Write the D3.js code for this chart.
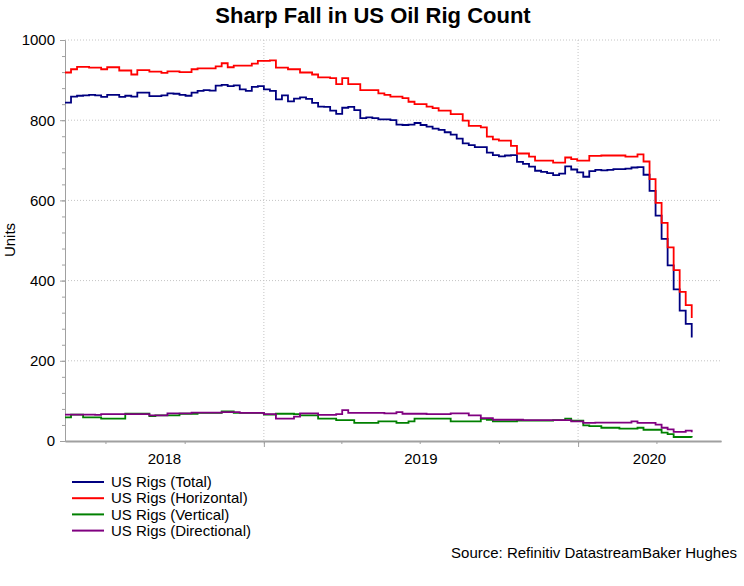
<!DOCTYPE html>
<html>
<head>
<meta charset="utf-8">
<script src="https://cdn.jsdelivr.net/npm/d3@7"></script>
<style>
  body { margin: 0; background: #fff; }
  text { font-family: "Liberation Sans", Arial, sans-serif; }
</style>
</head>
<body>
<div id="rigChart"></div>
<script>
// weekly rig counts, first reading dated firstWeek
const firstWeek = '2018-05-15';
const seriesNames = ['US Rigs (Total)', 'US Rigs (Horizontal)', 'US Rigs (Vertical)', 'US Rigs (Directional)'];

const totalRigs = [
  844, 859, 861, 862, 863, 862, 858, 863, 863, 858,
  861, 859, 869, 869, 860, 860, 862, 867, 866, 863,
  861, 869, 873, 875, 874, 886, 888, 885, 887, 877,
  873, 883, 885, 877, 873, 852, 862, 847, 854, 857,
  853, 843, 834, 833, 824, 816, 831, 833, 825, 805,
  807, 805, 802, 802, 800, 789, 788, 789, 793, 788,
  784, 779, 776, 770, 764, 754, 742, 738, 733, 733,
  719, 713, 710, 712, 713, 696, 691, 684, 674, 671,
  668, 663, 667, 685, 677, 670, 659, 673, 676, 675,
  676, 678, 678, 679, 682, 683, 664, 624, 562, 504,
  438, 378, 325, 292, 258
];
const horizontalRigs = [
  919, 927, 933, 933, 931, 931, 927, 932, 932, 924,
  924, 914, 925, 925, 921, 921, 918, 922, 922, 920,
  920, 927, 929, 929, 929, 934, 942, 932, 936, 936,
  936, 941, 948, 948, 949, 931, 931, 927, 927, 919,
  919, 914, 907, 907, 905, 890, 905, 890, 890, 875,
  875, 875, 867, 863, 859, 859, 855, 846, 840, 840,
  834, 830, 824, 824, 815, 815, 799, 786, 786, 782,
  759, 752, 749, 749, 736, 717, 717, 709, 699, 699,
  699, 694, 694, 707, 703, 699, 699, 711, 711, 712,
  712, 712, 712, 709, 709, 715, 697, 653, 594, 544,
  483, 426, 372, 339, 307
];
const verticalRigs = [
  59, 66, 66, 59, 59, 59, 56, 56, 56, 56,
  68, 68, 68, 68, 62, 64, 64, 64, 64, 68,
  68, 68, 70, 70, 70, 70, 74, 74, 70, 70,
  70, 70, 70, 66, 66, 68, 68, 68, 67, 64,
  64, 64, 56, 56, 56, 52, 52, 52, 45, 45,
  45, 45, 49, 49, 49, 45, 45, 49, 56, 56,
  56, 56, 56, 56, 49, 49, 49, 49, 49, 55,
  53, 49, 49, 49, 49, 51, 51, 51, 51, 51,
  51, 52, 52, 56, 51, 51, 39, 37, 37, 33,
  33, 33, 31, 31, 31, 33, 28, 28, 28, 21,
  17, 10, 10, 10, 9
];
const directionalRigs = [
  66, 66, 66, 66, 66, 65, 67, 67, 67, 67,
  67, 67, 67, 67, 64, 64, 64, 69, 69, 69,
  69, 71, 71, 71, 71, 71, 72, 72, 72, 70,
  70, 70, 70, 67, 67, 56, 56, 56, 61, 69,
  69, 69, 65, 65, 65, 67, 77, 70, 70, 70,
  70, 70, 70, 69, 69, 72, 68, 68, 68, 68,
  67, 67, 67, 67, 69, 69, 69, 64, 64, 57,
  57, 53, 53, 53, 53, 53, 52, 52, 52, 52,
  52, 52, 52, 52, 49, 49, 45, 45, 46, 46,
  46, 46, 46, 46, 49, 45, 45, 45, 41, 33,
  29, 23, 23, 26, 22
];

const yTicks = [0, 200, 400, 600, 800, 1000];
const years = [2018, 2019, 2020];
const xStart = '2018-05-15';
const xEnd = '2020-06-15';

const outerWidth = 744;
const outerHeight = 586;
const margin = { left: 65, top: 40, right: 23, bottom: 145 };
const innerWidth = outerWidth - (margin.left + margin.right);
const innerHeight = outerHeight - (margin.top + margin.bottom);

const parseDate = d3.timeParse('%Y-%m-%d');
const start = parseDate(firstWeek);
const weeks = totalRigs.map((d, i) => d3.timeDay.offset(start, 7 * i));
const allSeries = [totalRigs, horizontalRigs, verticalRigs, directionalRigs];

const color = d3.scaleOrdinal()
  .domain(seriesNames)
  .range(['#000080', '#ff0000', '#008000', '#800080']);

const svg = d3.select('#rigChart')
  .append('svg')
  .attr('width', outerWidth)
  .attr('height', outerHeight);

svg.append('rect')
  .attr('width', outerWidth)
  .attr('height', outerHeight)
  .attr('fill', '#fff');

svg.append('text')
  .attr('x', 373)
  .attr('y', 23)
  .attr('text-anchor', 'middle')
  .attr('font-size', 22)
  .attr('font-weight', 'bold')
  .text('Sharp Fall in US Oil Rig Count');

const xScale = d3.scaleTime()
  .domain([parseDate(xStart), parseDate(xEnd)])
  .range([0, innerWidth]);
const yScale = d3.scaleLinear()
  .domain([0, 1000])
  .range([innerHeight, 0]);

const chartG = svg.append('g')
  .attr('transform', 'translate(' + margin.left + ',' + margin.top + ')');

const yearStarts = years.slice(1).map(y => new Date(y, 0, 1));

// dotted grid
chartG.append('g')
  .selectAll('line')
  .data(yTicks.filter(t => t > 0))
  .enter()
  .append('line')
  .attr('x1', 0)
  .attr('x2', innerWidth)
  .attr('y1', d => yScale(d))
  .attr('y2', d => yScale(d))
  .attr('stroke', '#c4c4c4')
  .attr('stroke-dasharray', '1,2');
chartG.append('g')
  .selectAll('line')
  .data(yearStarts)
  .enter()
  .append('line')
  .attr('x1', d => xScale(d))
  .attr('x2', d => xScale(d))
  .attr('y1', 0)
  .attr('y2', innerHeight)
  .attr('stroke', '#c4c4c4')
  .attr('stroke-dasharray', '1,2');

// axes
const yMinorG = chartG.append('g')
  .call(d3.axisLeft(yScale).tickValues(d3.range(0, 1001, 40)).tickSize(3).tickSizeOuter(0));
const yMajorG = chartG.append('g')
  .call(d3.axisLeft(yScale).tickValues(yTicks).tickSize(5).tickSizeOuter(0).tickPadding(5).tickFormat(d3.format('d')));
const xMinorG = chartG.append('g')
  .attr('transform', 'translate(0,' + innerHeight + ')')
  .call(d3.axisBottom(xScale).ticks(d3.timeMonth.every(3)).tickSize(3).tickSizeOuter(0));
const xMajorG = chartG.append('g')
  .attr('transform', 'translate(0,' + innerHeight + ')')
  .call(d3.axisBottom(xScale).tickValues(yearStarts).tickSize(6).tickSizeOuter(0));

[yMinorG, xMinorG, xMajorG].forEach(g => g.selectAll('text').remove());
[yMinorG, yMajorG, xMinorG, xMajorG].forEach(g => {
  g.selectAll('path, line').attr('stroke', '#a0a0a0');
});
xMinorG.select('.domain').attr('stroke-width', 2);
yMajorG.selectAll('text')
  .attr('font-family', '"Liberation Sans", Arial, sans-serif')
  .attr('font-size', 15)
  .attr('fill', '#000');

// year labels centred on the visible part of each year
const [d0, d1] = xScale.domain();
chartG.append('g')
  .selectAll('text')
  .data(years)
  .enter()
  .append('text')
  .attr('x', y => {
    const a = Math.max(+new Date(y, 0, 1), +d0);
    const b = Math.min(+new Date(y + 1, 0, 1), +d1);
    return (xScale(a) + xScale(b)) / 2;
  })
  .attr('y', innerHeight + 23)
  .attr('text-anchor', 'middle')
  .attr('font-size', 15)
  .text(y => y);

svg.append('text')
  .attr('transform', 'translate(15,240) rotate(-90)')
  .attr('text-anchor', 'middle')
  .attr('font-size', 15)
  .text('Units');

// lines
const line = d3.line()
  .x((d, i) => xScale(weeks[i]))
  .y(d => yScale(d))
  .curve(d3.curveStepAfter);

chartG.selectAll('path.series')
  .data(allSeries)
  .enter()
  .append('path')
  .attr('class', 'series')
  .attr('fill', 'none')
  .attr('stroke', (d, i) => color(seriesNames[i]))
  .attr('stroke-width', 1.8)
  .attr('d', line);

// legend
const legendG = svg.append('g')
  .attr('transform', 'translate(72,482)');
const rows = legendG.selectAll('g')
  .data(seriesNames)
  .enter()
  .append('g')
  .attr('transform', (d, i) => 'translate(0,' + (i * 16.2) + ')');
rows.append('line')
  .attr('x1', 0)
  .attr('x2', 32)
  .attr('stroke', d => color(d))
  .attr('stroke-width', 2);
rows.append('text')
  .attr('x', 39)
  .attr('dy', '0.35em')
  .attr('font-size', 15)
  .text(d => d);

svg.append('text')
  .attr('x', 737)
  .attr('y', 558)
  .attr('text-anchor', 'end')
  .attr('font-size', 15)
  .text('Source: Refinitiv DatastreamBaker Hughes');
</script>
</body>
</html>
